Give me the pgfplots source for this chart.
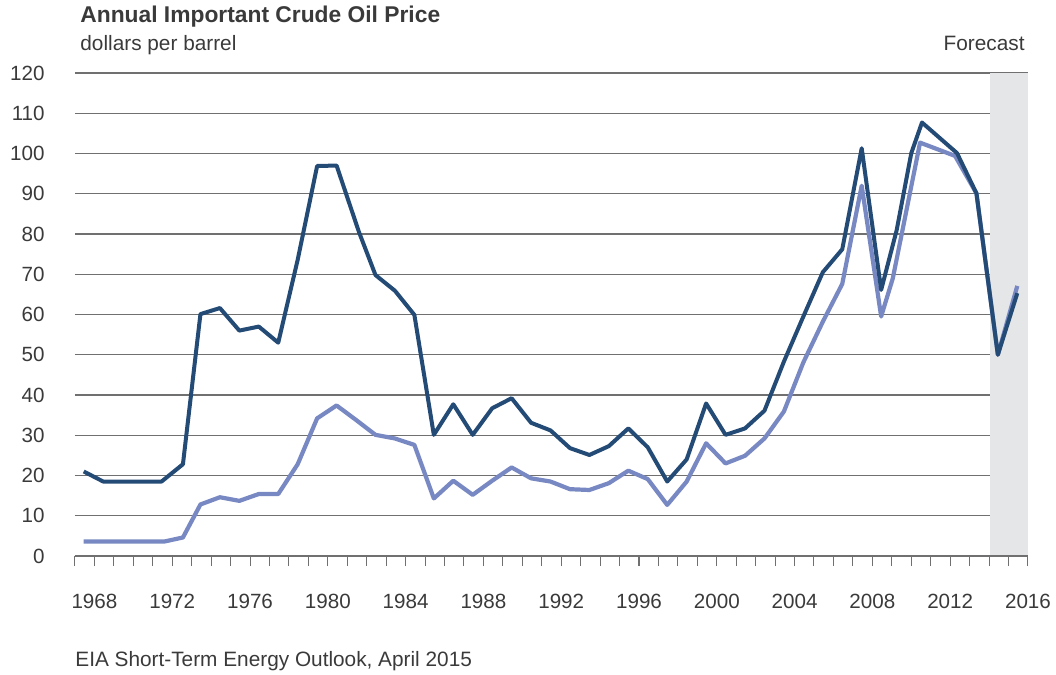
\documentclass[border=0pt]{standalone}
\usepackage{fontspec}
\setmainfont{Liberation Sans}
\usepackage{pgfplots}
\pgfplotsset{compat=1.18}
\definecolor{realcol}{HTML}{234B75}
\definecolor{nomcol}{HTML}{7888C2}
\definecolor{txt}{HTML}{3A3A3A}
\definecolor{gridc}{HTML}{707070}
\definecolor{fcst}{HTML}{E5E6E8}

\begin{document}
\begin{tikzpicture}[font=\fontsize{10.4}{12}\selectfont, text=txt]
\useasboundingbox (-37.5pt,-59.5pt) rectangle (490.5pt,278pt);
\begin{axis}[
  scale only axis, width=476.5pt, height=241.5pt,
  xmin=1967, xmax=2016, ymin=0, ymax=120,
  axis x line*=bottom, axis y line*=left,
  y axis line style={draw=none},
  x axis line style={draw=gridc, line width=0.6pt},
  xtick={1968,1972,...,2016}, minor xtick={1967,...,2016},
  tick align=outside, major tick length=5pt, minor tick length=5pt,
  every tick/.style={draw=gridc, line width=0.5pt},
  ytick={0,10,...,120}, ytick style={draw=none},
  ymajorgrids, major grid style={draw=gridc, line width=0.6pt},
  /pgf/number format/assume math mode=true,
  /pgf/number format/1000 sep={},
  tick label style={font=\fontsize{10.3}{12}\selectfont, text=txt},
  x tick label style={anchor=base, yshift=-21pt, inner sep=0pt},
  y tick label style={anchor=east, inner sep=0pt, xshift=-10pt},
]
% forecast band
\fill[fcst] (axis cs:2014.05,0.15) rectangle (axis cs:2016,120);

% nominal price
\addplot[nomcol, line width=2.1pt, line join=round] coordinates {
(1967.45,3.6) (1968.45,3.6) (1969.45,3.6) (1970.45,3.6) (1971.6,3.6)
(1972.55,4.6) (1973.45,12.8) (1974.45,14.6) (1975.45,13.7) (1976.45,15.4)
(1977.45,15.4) (1978.45,22.8) (1979.45,34.2) (1980.45,37.4) (1981.45,33.8)
(1982.45,30.1) (1983.45,29.2) (1984.45,27.6) (1985.45,14.3) (1986.45,18.7)
(1987.45,15.2) (1988.45,18.7) (1989.45,22.0) (1990.45,19.3) (1991.45,18.5)
(1992.45,16.6) (1993.45,16.4) (1994.45,18.1) (1995.45,21.2) (1996.45,19.1)
(1997.45,12.7) (1998.45,18.5) (1999.45,28.0) (2000.45,23.0) (2001.45,24.9)
(2002.45,29.2) (2003.45,35.9) (2004.45,48.1) (2005.45,58.2) (2006.45,67.6)
(2007.45,92.0) (2008.45,59.5) (2009.05,69.0) (2010.45,102.7) (2012.25,99.4)
(2013.35,90.1) (2014.45,50.0) (2015.45,67.1)
};

% real price
\addplot[realcol, line width=2pt, line join=round] coordinates {
(1967.45,21.0) (1968.45,18.5) (1969.45,18.5) (1970.45,18.5) (1971.45,18.5)
(1972.55,22.8) (1973.45,60.1) (1974.45,61.6) (1975.45,56.0) (1976.45,57.0)
(1977.45,53.0) (1978.45,73.6) (1979.45,96.9) (1980.45,97.0) (1981.6,80.5)
(1982.45,69.8) (1983.45,65.9) (1984.45,59.9) (1985.45,30.1) (1986.45,37.7)
(1987.45,30.1) (1988.45,36.7) (1989.45,39.2) (1990.45,33.1) (1991.45,31.2)
(1992.45,26.8) (1993.45,25.1) (1994.45,27.3) (1995.45,31.7) (1996.45,27.0)
(1997.45,18.5) (1998.45,24.0) (1999.45,37.9) (2000.45,30.1) (2001.45,31.7)
(2002.45,36.1) (2003.45,48.3) (2004.45,59.5) (2005.45,70.5) (2006.45,76.2)
(2007.45,101.3) (2008.45,66.1) (2009.25,81.0) (2010.0,100.1) (2010.55,107.7)
(2012.35,100.1) (2013.35,90.1) (2014.45,50.0) (2015.45,65.3)
};
\end{axis}

\node[anchor=base west, inner sep=0pt, font=\bfseries\fontsize{11.4}{12}\selectfont] at (2.5pt,266.5pt) {Annual Important Crude Oil Price};
\node[anchor=base west, inner sep=0pt] at (2.5pt,252.5pt) {dollars per barrel};
\node[anchor=base east, inner sep=0pt] at (475pt,252.5pt) {Forecast};
\node[anchor=base west, inner sep=0pt] at (0pt,-55.5pt) {EIA Short-Term Energy Outlook, April 2015};
\end{tikzpicture}
\end{document}
